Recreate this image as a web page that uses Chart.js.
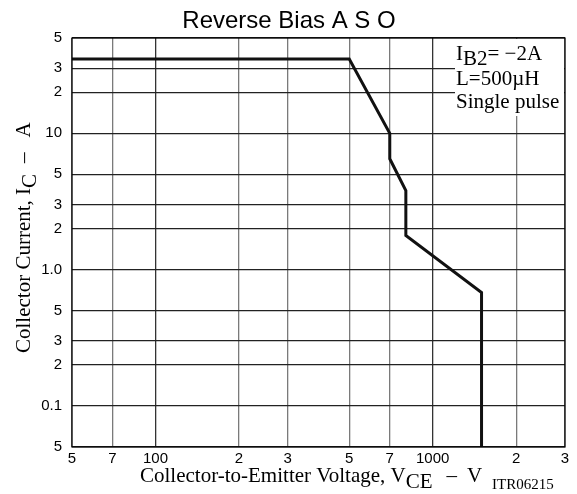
<!DOCTYPE html>
<html>
<head>
<meta charset="utf-8">
<script src="https://cdn.jsdelivr.net/npm/chart.js@4"></script>
<style>
  html, body { margin: 0; padding: 0; background: #fff; }
  #wrap { width: 577px; height: 494px; }
</style>
</head>
<body>
<div id="wrap"><canvas id="chart"></canvas></div>
<script>
/** Reverse bias ASO curve **/
const vce = [50, 500, 700, 700, 800, 800, 1500, 1500];
const ic = [35, 35, 10, 6.5, 3.8, 1.78, 0.68, 0.05];

const xTicks = [50, 70, 100, 200, 300, 500, 700, 1000, 2000, 3000];
const xLabels = ['5', '7', '100', '2', '3', '5', '7', '1000', '2', '3'];
const yTicks = [0.05, 0.1, 0.2, 0.3, 0.5, 1, 2, 3, 5, 10, 20, 30, 50];
const yLabels = ['5', '0.1', '2', '3', '5', '1.0', '2', '3', '5', '10', '2', '3', '5'];

const noteLines = [
  [['I', 0], ['B2', 1], ['= \u22122A', 0]],
  [['L=500\u00b5H', 0]],
  [['Single pulse', 0]]
];

const points = vce.map((v, i) => ({x: v, y: ic[i]}));

function isDecade(v) {
  const l = Math.log10(v);
  return Math.abs(l - Math.round(l)) < 1e-6;
}

// draws text with subscript parts (a number = gap in px)
function drawParts(ctx, parts, x, y, size, subDrop) {
  let cx = x;
  ctx.font = size + 'px "Liberation Serif", serif';
  parts.forEach(function(p) {
    if (typeof p === 'number') { cx += p; return; }
    ctx.fillText(p[0], cx, y + (p[1] ? subDrop : 0));
    cx += ctx.measureText(p[0]).width;
  });
  return cx - x;
}

const textPlugin = {
  id: 'texts',
  afterDatasetsDraw(chart) {
    const ctx = chart.ctx;
    const a = chart.chartArea;
    ctx.save();
    // note box
    ctx.fillStyle = '#fff';
    ctx.fillRect(455, a.top + 1, a.right - 456, 77);
    ctx.fillStyle = '#000';
    ctx.textBaseline = 'alphabetic';
    ctx.textAlign = 'left';
    drawParts(ctx, noteLines[0], 456, 60, 21, 5);
    drawParts(ctx, noteLines[1], 456, 85, 21, 5);
    drawParts(ctx, noteLines[2], 456, 108, 21, 5);
    // frame
    ctx.strokeStyle = '#000';
    ctx.lineWidth = 1.2;
    ctx.strokeRect(a.left, a.top, a.right - a.left, a.bottom - a.top);
    ctx.restore();
  },
  afterDraw(chart) {
    const ctx = chart.ctx;
    ctx.save();
    ctx.fillStyle = '#000';
    // title
    ctx.font = '24px "Liberation Sans", Arial, sans-serif';
    ctx.textAlign = 'center';
    ctx.textBaseline = 'alphabetic';
    ctx.fillText('Reverse Bias A S O', 289, 28);
    ctx.textAlign = 'left';
    // x title
    drawParts(ctx, [['Collector-to-Emitter Voltage, V', 0], ['CE', 1], 14, ['\u2013', 0], 10, ['V', 0]], 140, 482, 21, 6);
    ctx.font = '15px "Liberation Serif", serif';
    ctx.fillText('ITR06215', 492, 489);
    // y title
    ctx.translate(30, 353);
    ctx.rotate(-Math.PI / 2);
    drawParts(ctx, [['Collector Current, I', 0], ['C', 1], 11, ['\u2013', 0], 15, ['A', 0]], 0, 0, 21, 6);
    ctx.restore();
  }
};

const config = {
  type: 'scatter',
  data: {
    datasets: [{
      data: points,
      showLine: true,
      borderColor: '#111',
      borderWidth: 3,
      pointRadius: 0,
      fill: false,
      tension: 0
    }]
  },
  options: {
    responsive: true,
    maintainAspectRatio: false,
    animation: false,
    layout: { padding: { top: 38, right: 12, left: 0, bottom: 0 } },
    plugins: {
      legend: false,
      tooltip: { enabled: false }
    },
    scales: {
      x: {
        type: 'logarithmic',
        min: 50,
        max: 3000,
        afterBuildTicks: function(axis) { axis.ticks = xTicks.map(v => ({value: v})); },
        afterFit: function(axis) { axis.height = 47; },
        border: { display: false },
        grid: {
          drawTicks: false,
          lineWidth: 1.3,
          color: function(c) { return isDecade(c.tick.value) ? '#333' : '#7a7a7a'; }
        },
        ticks: {
          autoSkip: false,
          maxRotation: 0,
          padding: 3,
          color: '#000',
          font: { family: '"Liberation Sans", Arial, sans-serif', size: 15 },
          callback: function(v) { const i = xTicks.indexOf(v); return i < 0 ? '' : xLabels[i]; }
        }
      },
      y: {
        type: 'logarithmic',
        min: 0.05,
        max: 50,
        afterBuildTicks: function(axis) { axis.ticks = yTicks.map(v => ({value: v})); },
        afterFit: function(axis) { axis.width = 72; },
        border: { display: false },
        grid: {
          drawTicks: false,
          lineWidth: 1.3,
          color: '#222'
        },
        ticks: {
          autoSkip: false,
          padding: 10,
          color: '#000',
          font: { family: '"Liberation Sans", Arial, sans-serif', size: 15 },
          callback: function(v) { const i = yTicks.indexOf(v); return i < 0 ? '' : yLabels[i]; }
        }
      }
    }
  },
  plugins: [textPlugin]
};

const chart = new Chart(document.getElementById('chart'), config);
</script>
</body>
</html>
